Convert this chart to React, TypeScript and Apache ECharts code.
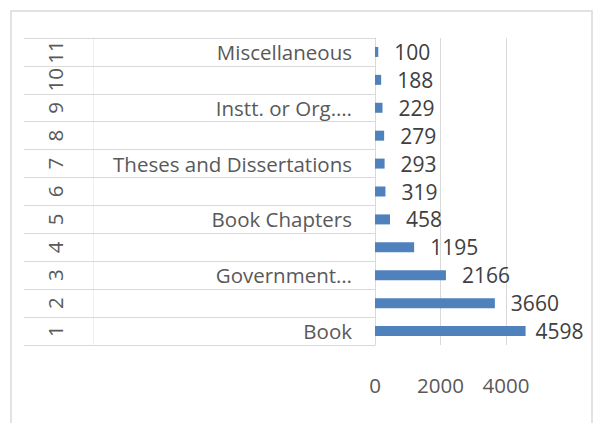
import React, { useEffect, useRef } from "react";
import * as echarts from "echarts";

const rowNumbers = ["1", "2", "3", "4", "5", "6", "7", "8", "9", "10", "11"];
const categoryLabels = [
  "Book",
  "",
  "Government…",
  "",
  "Book Chapters",
  "",
  "Theses and Dissertations",
  "",
  "Instt. or Org.…",
  "",
  "Miscellaneous",
];
const counts = [4598, 3660, 2166, 1195, 458, 319, 293, 279, 229, 188, 100];
const xTicks = { min: 0, max: 4000, interval: 2000 };

const FONT = "'Open Sans', 'Noto Sans', sans-serif";
const GRID_COLOR = "#d9d9d9";

export default function App() {
  const ref = useRef<HTMLDivElement>(null);
  useEffect(() => {
    if (!ref.current) return;
    const chart = echarts.init(ref.current, null, { renderer: "svg" });
    chart.setOption({
      animation: false,
      backgroundColor: "#ffffff",
      graphic: [
        {
          type: "rect",
          shape: { x: 11, y: 11, width: 581, height: 440 },
          style: { fill: "none", stroke: GRID_COLOR, lineWidth: 1.5 },
          silent: true,
        },
      ],
      grid: { left: 375, right: 88, top: 38, bottom: 78, containLabel: false },
      xAxis: {
        type: "value",
        min: xTicks.min,
        max: xTicks.max,
        interval: xTicks.interval,
        axisLine: { show: false },
        axisTick: { show: false },
        splitLine: { show: true, lineStyle: { color: GRID_COLOR, width: 1 } },
        axisLabel: {
          margin: 29,
          fontFamily: FONT,
          fontSize: 20.5,
          color: "#595959",
          formatter: (v: number) => String(v),
        },
      },
      yAxis: [
        {
          type: "category",
          data: categoryLabels,
          position: "left",
          axisLine: { show: true, lineStyle: { color: GRID_COLOR, width: 1 } },
          axisTick: {
            show: true,
            interval: 0,
            length: 351,
            lineStyle: { color: GRID_COLOR, width: 1 },
          },
          axisLabel: {
            interval: 0,
            margin: 23,
            fontFamily: FONT,
            fontSize: 20.5,
            color: "#595959",
          },
          splitLine: { show: false },
        },
        {
          type: "category",
          data: rowNumbers,
          position: "left",
          offset: 282,
          axisLine: { show: true, lineStyle: { color: "#f0f0f0", width: 1 } },
          axisTick: { show: false },
          axisLabel: {
            interval: 0,
            rotate: 90,
            margin: 28,
            fontFamily: FONT,
            fontSize: 20.5,
            color: "#595959",
          },
          splitLine: { show: false },
        },
      ],
      series: [
        {
          type: "bar",
          yAxisIndex: 0,
          data: counts.map((v, i) =>
            i === 0 ? { value: v, label: { distance: 10 } } : v
          ),
          barWidth: 10,
          clip: false,
          itemStyle: { color: "#4f81bd" },
          label: {
            show: true,
            position: "right",
            distance: 16,
            fontFamily: FONT,
            fontSize: 21,
            color: "#404040",
          },
        },
      ],
    });
    return () => chart.dispose();
  }, []);
  return (
    <div
      ref={ref}
      style={{ position: "absolute", left: 0, top: 0, width: 594, height: 423 }}
    />
  );
}
